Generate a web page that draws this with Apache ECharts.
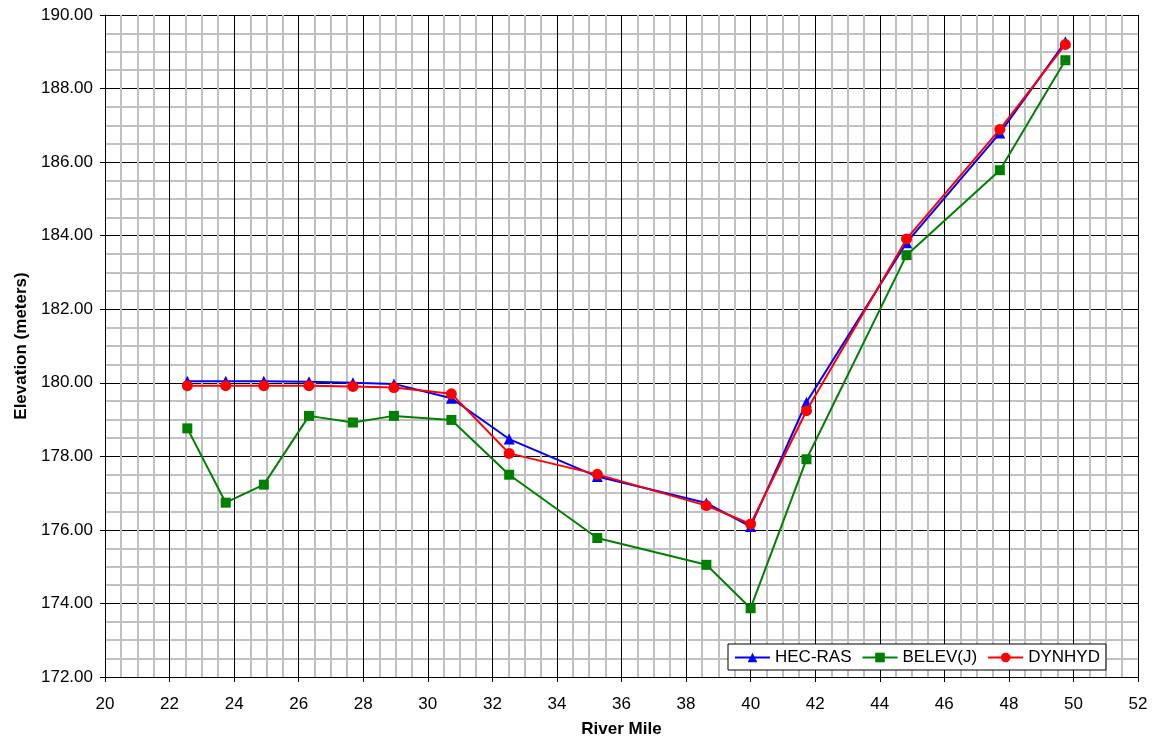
<!DOCTYPE html>
<html>
<head>
<meta charset="utf-8">
<script src="https://cdn.jsdelivr.net/npm/echarts@6/dist/echarts.min.js"></script>
<style>html,body{margin:0;padding:0;background:#fff}#c{width:1155px;height:740px}</style>
</head>
<body>
<div id="c"></div>
<script>
const riverMile = [22.55, 23.74, 24.92, 26.32, 27.68, 28.95, 30.73, 32.52, 35.25, 38.63, 40.0, 41.73, 44.83, 47.72, 49.75];
const hecRas  = [180.04, 180.04, 180.04, 180.03, 180.00, 179.97, 179.58, 178.47, 177.45, 176.73, 176.09, 179.47, 183.81, 186.79, 189.27];
const belevJ  = [178.76, 176.74, 177.23, 179.10, 178.92, 179.10, 178.99, 177.50, 175.78, 175.05, 173.87, 177.92, 183.47, 185.78, 188.77];
const dynhyd  = [179.92, 179.92, 179.92, 179.92, 179.90, 179.87, 179.70, 178.08, 177.51, 176.66, 176.16, 179.24, 183.91, 186.89, 189.20];
const seriesNames = ['HEC-RAS', 'BELEV(J)', 'DYNHYD'];

function pairs(ys){ return riverMile.map((x,i)=>[x, ys[i]]); }

const chart = echarts.init(document.getElementById('c'));
const font = 'Liberation Sans, Arial, sans-serif';
chart.setOption({
  animation: false,
  backgroundColor: '#fff',
  grid: { left: 105, right: 17, top: 15, bottom: 63, containLabel: false, outerBoundsMode: 'none' },
  xAxis: {
    type: 'value', min: 20, max: 52, interval: 2,
    name: 'River Mile', nameLocation: 'middle', nameGap: 44,
    nameTextStyle: { fontFamily: font, fontSize: 17, fontWeight: 'bold', color: '#000' },
    axisLine: { show: true, lineStyle: { color: '#000', width: 1 } },
    axisTick: { show: true, length: 5, lineStyle: { color: '#000' } },
    axisLabel: { fontFamily: font, fontSize: 17, color: '#000', margin: 19 },
    splitLine: { show: true, lineStyle: { color: '#000', width: 1 } },
    minorTick: { show: true, splitNumber: 4, length: 0, lineStyle: { color: 'transparent', width: 0 } },
    minorSplitLine: { show: true, lineStyle: { color: '#c0c0c0', width: 2 } }
  },
  yAxis: {
    type: 'value', min: 172, max: 190, interval: 2,
    name: 'Elevation (meters)', nameLocation: 'middle', nameGap: 75, nameRotate: 90,
    nameTextStyle: { fontFamily: font, fontSize: 17, fontWeight: 'bold', color: '#000' },
    axisLine: { show: true, lineStyle: { color: '#000', width: 1 } },
    axisTick: { show: true, length: 5, lineStyle: { color: '#000' } },
    axisLabel: { fontFamily: font, fontSize: 17, color: '#000', margin: 12,
      formatter: v => v.toFixed(2) },
    splitLine: { show: true, lineStyle: { color: '#000', width: 1 } },
    minorTick: { show: true, splitNumber: 4, length: 0, lineStyle: { color: 'transparent', width: 0 } },
    minorSplitLine: { show: true, lineStyle: { color: '#c0c0c0', width: 2 } }
  },
  legend: {
    left: 728, top: 644,
    backgroundColor: '#fff', borderColor: '#000', borderWidth: 1,
    padding: [5, 6, 4, 6], itemGap: 10, itemWidth: 35, itemHeight: 12,
    textStyle: { fontFamily: font, fontSize: 17, color: '#000' },
    data: seriesNames
  },
  series: [
    { name: seriesNames[0], type: 'line', data: pairs(hecRas),
      symbol: 'triangle', symbolSize: 11, itemStyle: { color: '#0000ff' },
      lineStyle: { color: '#0000ff', width: 2 }, z: 3 },
    { name: seriesNames[1], type: 'line', data: pairs(belevJ),
      symbol: 'rect', symbolSize: 10, itemStyle: { color: '#008000' },
      lineStyle: { color: '#008000', width: 2 }, z: 4 },
    { name: seriesNames[2], type: 'line', data: pairs(dynhyd),
      symbol: 'circle', symbolSize: 11, itemStyle: { color: '#ff0000' },
      lineStyle: { color: '#ff0000', width: 2 }, z: 5 }
  ]
});
</script>
</body>
</html>
